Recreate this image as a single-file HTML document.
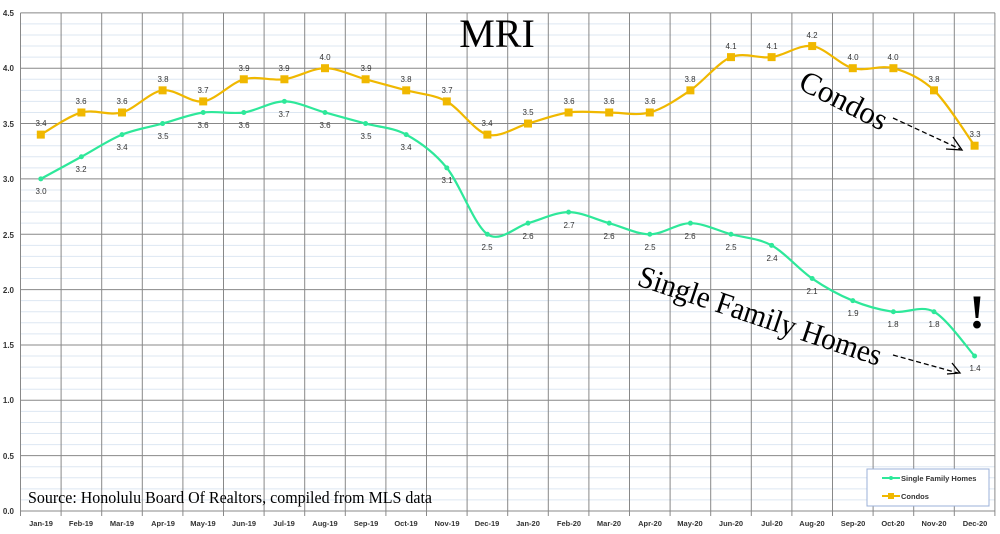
<!DOCTYPE html>
<html><head><meta charset="utf-8"><style>
body{margin:0;background:#fff;}
svg{display:block;font-family:"Liberation Sans",sans-serif;}
</style></head><body>
<svg id="s" width="1000" height="534" viewBox="0 0 1000 534">
<g id="grid"></g>
<g font-size="8" font-weight="bold" fill="#333" text-anchor="end">
<text x="14" y="16">4.5</text><text x="14" y="71">4.0</text><text x="14" y="127">3.5</text><text x="14" y="182">3.0</text><text x="14" y="238">2.5</text><text x="14" y="293">2.0</text><text x="14" y="348">1.5</text><text x="14" y="403">1.0</text><text x="14" y="459">0.5</text><text x="14" y="514">0.0</text>
</g>
<g font-size="7.5" font-weight="bold" fill="#333" text-anchor="middle">
<text x="41" y="526">Jan-19</text><text x="81" y="526">Feb-19</text><text x="122" y="526">Mar-19</text><text x="163" y="526">Apr-19</text><text x="203" y="526">May-19</text><text x="244" y="526">Jun-19</text><text x="284" y="526">Jul-19</text><text x="325" y="526">Aug-19</text><text x="366" y="526">Sep-19</text><text x="406" y="526">Oct-19</text><text x="447" y="526">Nov-19</text><text x="487" y="526">Dec-19</text><text x="528" y="526">Jan-20</text><text x="569" y="526">Feb-20</text><text x="609" y="526">Mar-20</text><text x="650" y="526">Apr-20</text><text x="690" y="526">May-20</text><text x="731" y="526">Jun-20</text><text x="772" y="526">Jul-20</text><text x="812" y="526">Aug-20</text><text x="853" y="526">Sep-20</text><text x="893" y="526">Oct-20</text><text x="934" y="526">Nov-20</text><text x="975" y="526">Dec-20</text>
</g>
<g id="series"></g>
<g font-size="8" fill="#333" text-anchor="middle">
<text x="41" y="194">3.0</text><text x="81" y="172">3.2</text><text x="122" y="150">3.4</text><text x="163" y="139">3.5</text><text x="203" y="128">3.6</text><text x="244" y="128">3.6</text><text x="284" y="117">3.7</text><text x="325" y="128">3.6</text><text x="366" y="139">3.5</text><text x="406" y="150">3.4</text><text x="447" y="183">3.1</text><text x="487" y="250">2.5</text><text x="528" y="239">2.6</text><text x="569" y="228">2.7</text><text x="609" y="239">2.6</text><text x="650" y="250">2.5</text><text x="690" y="239">2.6</text><text x="731" y="250">2.5</text><text x="772" y="261">2.4</text><text x="812" y="294">2.1</text><text x="853" y="316">1.9</text><text x="893" y="327">1.8</text><text x="934" y="327">1.8</text><text x="975" y="371">1.4</text>
<text x="41" y="126">3.4</text><text x="81" y="104">3.6</text><text x="122" y="104">3.6</text><text x="163" y="82">3.8</text><text x="203" y="93">3.7</text><text x="244" y="71">3.9</text><text x="284" y="71">3.9</text><text x="325" y="60">4.0</text><text x="366" y="71">3.9</text><text x="406" y="82">3.8</text><text x="447" y="93">3.7</text><text x="487" y="126">3.4</text><text x="528" y="115">3.5</text><text x="569" y="104">3.6</text><text x="609" y="104">3.6</text><text x="650" y="104">3.6</text><text x="690" y="82">3.8</text><text x="731" y="49">4.1</text><text x="772" y="49">4.1</text><text x="812" y="38">4.2</text><text x="853" y="60">4.0</text><text x="893" y="60">4.0</text><text x="934" y="82">3.8</text><text x="975" y="137">3.3</text>
</g>
<rect x="867" y="469" width="122" height="37" fill="#fff" stroke="#9bb0d8" stroke-width="1"/>
<line x1="882" y1="478" x2="900" y2="478" stroke="#2ee89a" stroke-width="2"/><circle cx="891" cy="478" r="2" fill="#2ee89a"/>
<line x1="882" y1="496" x2="900" y2="496" stroke="#f0b800" stroke-width="2"/><rect x="888" y="493" width="6" height="6" fill="#f0b800"/>
<g font-size="7.5" font-weight="bold" fill="#333"><text x="901" y="481">Single Family Homes</text><text x="901" y="499">Condos</text></g>
<g font-family="Liberation Serif,serif" fill="#000">
<text x="497" y="47" font-size="40" text-anchor="middle">MRI</text>
<text x="28" y="503" font-size="17" textLength="404" lengthAdjust="spacingAndGlyphs">Source: Honolulu Board Of Realtors, compiled from MLS data</text>
<text font-size="31" transform="translate(797,88) rotate(27)">Condos</text>
<text font-size="31" transform="translate(636,285) rotate(18.5)" textLength="255" lengthAdjust="spacingAndGlyphs">Single Family Homes</text>
<text x="977" y="328" font-size="48" font-weight="bold" text-anchor="middle">!</text>
</g>
<g stroke="#000" stroke-width="1.3" fill="none">
<line x1="893" y1="118" x2="960" y2="149" stroke-dasharray="5,3"/>
<polyline points="953,137 962,150 946,149"/>
<line x1="893" y1="355" x2="958" y2="373" stroke-dasharray="5,3"/>
<polyline points="952,363 960,373 947,374"/>
</g>
</svg>
<script>
var NS="http://www.w3.org/2000/svg";
function el(p,t,a){var e=document.createElementNS(NS,t);for(var k in a)e.setAttribute(k,a[k]);p.appendChild(e);return e;}
var g=document.getElementById("grid");
var X0=20.5,DX=40.6,Y=function(v){return 511-110.7*v;};
for(var i=0;i<=45;i++){var v=i*0.1;if(i%5==0)continue;el(g,"line",{x1:X0,x2:995,y1:Y(v),y2:Y(v),stroke:"#dde7f2","stroke-width":1});}
for(var i=0;i<=9;i++){var v=i*0.5;el(g,"line",{x1:X0,x2:995,y1:Y(v),y2:Y(v),stroke:"#888","stroke-width":1});}
for(var i=0;i<=24;i++){var x=X0+i*DX;el(g,"line",{x1:x,x2:x,y1:Y(4.5),y2:516,stroke:"#888","stroke-width":1});}
var sfh=[3.0,3.2,3.4,3.5,3.6,3.6,3.7,3.6,3.5,3.4,3.1,2.5,2.6,2.7,2.6,2.5,2.6,2.5,2.4,2.1,1.9,1.8,1.8,1.4];
var con=[3.4,3.6,3.6,3.8,3.7,3.9,3.9,4.0,3.9,3.8,3.7,3.4,3.5,3.6,3.6,3.6,3.8,4.1,4.1,4.2,4.0,4.0,3.8,3.3];
var sg=document.getElementById("series");
function path(d,col){var p=d.map(function(v,i){return [X0+DX*(i+0.5),Y(v)];});
var s="M"+p[0][0]+","+p[0][1];
for(var i=0;i<p.length-1;i++){var a=p[Math.max(0,i-1)],b=p[i],c=p[i+1],e=p[Math.min(p.length-1,i+2)];var t=0.16;
s+=" C"+(b[0]+(c[0]-a[0])*t)+","+(b[1]+(c[1]-a[1])*t)+" "+(c[0]-(e[0]-b[0])*t)+","+(c[1]-(e[1]-b[1])*t)+" "+c[0]+","+c[1];}
el(sg,"path",{d:s,fill:"none",stroke:col,"stroke-width":2.2});return p;}
var p1=path(sfh,"#2ee89a");p1.forEach(function(q){el(sg,"circle",{cx:q[0],cy:q[1],r:2.5,fill:"#2ee89a"});});
var p2=path(con,"#f0b800");p2.forEach(function(q){el(sg,"rect",{x:q[0]-4,y:q[1]-4,width:8,height:8,fill:"#f0b800"});});
</script>
</body></html>
